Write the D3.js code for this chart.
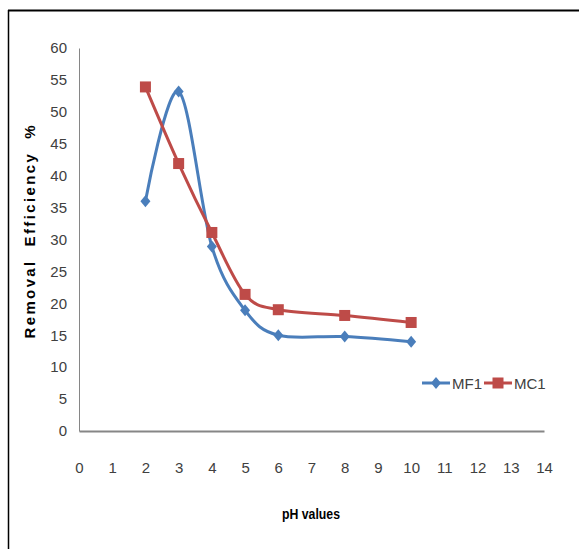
<!DOCTYPE html>
<html><head><meta charset="utf-8">
<script src="https://cdn.jsdelivr.net/npm/d3@7"></script>
<style>body{margin:0;background:#fff}svg{display:block}</style>
</head><body>
<script>
const phValues = [2, 3, 4, 5, 6, 8, 10];
const mf1 = [36.0, 53.2, 28.9, 18.9, 15.0, 14.8, 14.0];
const mc1 = [53.9, 41.9, 31.1, 21.4, 19.0, 18.1, 17.0];
const seriesNames = ["MF1", "MC1"];
const xTicks = d3.range(0, 15, 1);
const yTicks = d3.range(0, 61, 5);

const W = 579, H = 549;
const svg = d3.select("body").append("svg").attr("width", W).attr("height", H);

// outer frame (top and left edges visible)
svg.append("line").attr("x1", 8).attr("x2", W).attr("y1", 10.5).attr("y2", 10.5).attr("stroke", "#000").attr("stroke-width", 2);
svg.append("line").attr("x1", 8.5).attr("x2", 8.5).attr("y1", 10).attr("y2", H).attr("stroke", "#000").attr("stroke-width", 1.5);

const x = d3.scaleLinear().domain([0, 14]).range([79, 544]);
const y = d3.scaleLinear().domain([0, 60]).range([431, 48]);

const tickFont = "'Liberation Sans Narrow','Arial Narrow','Liberation Sans',sans-serif";

// y axis
const yAxis = svg.append("g").attr("transform", "translate(79,0)")
  .call(d3.axisLeft(y).tickValues(yTicks).tickSize(0).tickPadding(12));
yAxis.select(".domain").attr("stroke", "#868686").attr("stroke-width", 1);
yAxis.selectAll("text").attr("font-family", tickFont).attr("font-size", 15).attr("fill", "#404040");

// x axis
const xAxis = svg.append("g").attr("transform", "translate(0,431)")
  .call(d3.axisBottom(x).tickValues(xTicks).tickSize(0).tickPadding(31));
xAxis.select(".domain").attr("stroke", "#868686").attr("stroke-width", 2);
xAxis.selectAll("text").attr("font-family", tickFont).attr("font-size", 15).attr("fill", "#404040");

// axis titles
svg.append("text").attr("x", 311).attr("y", 519).attr("text-anchor", "middle")
  .attr("font-family", tickFont).attr("font-weight", "bold").attr("font-size", 15).attr("fill", "#000")
  .attr("textLength", 58).attr("lengthAdjust", "spacingAndGlyphs")
  .text("pH values");
svg.append("text").attr("transform", "translate(35,232) rotate(-90)").attr("text-anchor", "middle")
  .attr("font-family", "'Liberation Sans',Arial,sans-serif").attr("font-weight", "bold").attr("font-size", 15)
  .attr("fill", "#000").attr("xml:space", "preserve")
  .attr("textLength", 213).attr("lengthAdjust", "spacing")
  .text("Removal  Efficiency  %");

const colors = ["#4a7ebb", "#be4b48"];
const data = [mf1, mc1];
const line = d3.line().x(d => x(d[0])).y(d => y(d[1])).curve(d3.curveCardinal.tension(0));

data.forEach((vals, i) => {
  const pts = phValues.map((p, j) => [p, vals[j]]);
  svg.append("path").attr("d", line(pts)).attr("fill", "none")
    .attr("stroke", colors[i]).attr("stroke-width", 3);
});

function drawMarker(g, i, cx, cy) {
  if (i === 0) {
    g.append("path").attr("d", `M${cx},${cy-6}L${cx+5},${cy}L${cx},${cy+6}L${cx-5},${cy}Z`).attr("fill", colors[0]);
  } else {
    g.append("rect").attr("x", cx-5.5).attr("y", cy-5.5).attr("width", 11).attr("height", 11).attr("fill", colors[1]);
  }
}
const mg = svg.append("g");
data.forEach((vals, i) => {
  phValues.forEach((p, j) => drawMarker(mg, i, x(p), y(vals[j])));
});

// legend
const legend = svg.append("g");
const legX = [422, 484];
seriesNames.forEach((n, i) => {
  legend.append("line").attr("x1", legX[i]).attr("x2", legX[i] + 28).attr("y1", 383).attr("y2", 383)
    .attr("stroke", colors[i]).attr("stroke-width", 3);
  drawMarker(legend, i, legX[i] + 14, 383);
  legend.append("text").attr("x", legX[i] + 30).attr("y", 388.5)
    .attr("font-family", tickFont).attr("font-size", 15).attr("fill", "#404040").text(n);
});
</script>
</body></html>
